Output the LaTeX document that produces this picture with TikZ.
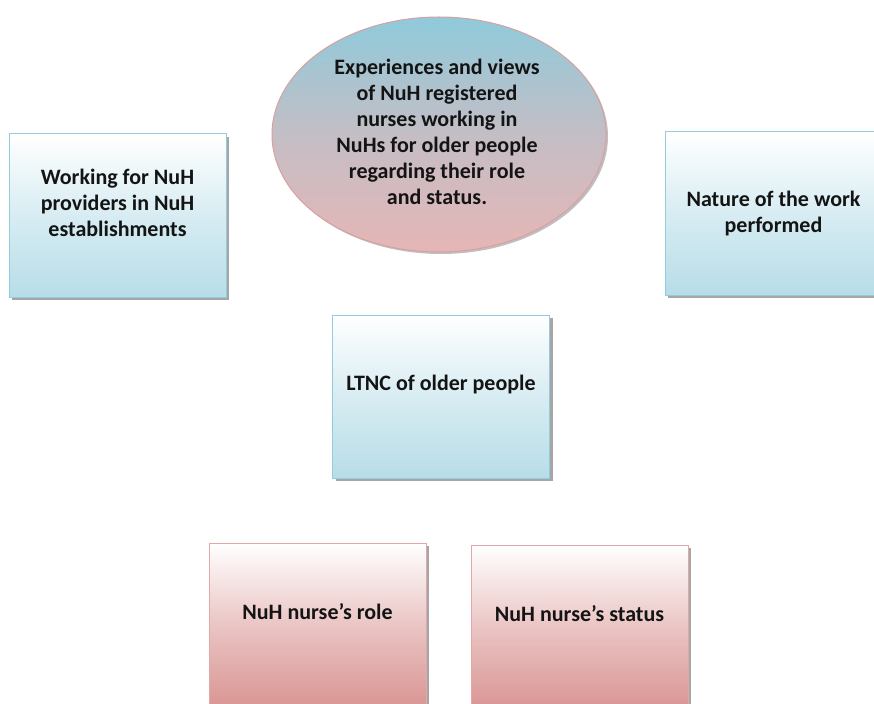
\documentclass[tikz,border=0pt]{standalone}
\usepackage{fontspec}
\setmainfont{Carlito}
\usetikzlibrary{shadows,shapes.geometric}
\definecolor{bluefill}{HTML}{B7DDE8}
\definecolor{blueline}{HTML}{93CDDD}
\definecolor{pinkfill}{HTML}{D99694}
\definecolor{pinkline}{HTML}{E0A8A8}
\definecolor{ovaltop}{HTML}{8FCADB}
\definecolor{ovalbot}{HTML}{E6B6B6}
\definecolor{ovalline}{HTML}{D9A0A0}
\definecolor{inkcol}{HTML}{141414}
\tikzset{
  x=1pt, y=1pt,
  lbl/.style={font=\fontsize{22}{26}\selectfont\bfseries, text=inkcol, align=center},
  bluebox/.style={draw=blueline, line width=1pt, top color=white, bottom color=bluefill,
    middle color=bluefill!55, minimum width=217pt, minimum height=163pt, inner sep=0pt,
    drop shadow={shadow xshift=3pt, shadow yshift=-3pt, fill=black, opacity=0.35}},
  pinkbox/.style={draw=pinkline, line width=1pt, top color=white, bottom color=pinkfill,
    middle color=pinkfill!55, minimum width=217pt, minimum height=163pt, inner sep=0pt,
    drop shadow={shadow xshift=3pt, shadow yshift=-3pt, fill=black, opacity=0.35}},
  oval/.style={ellipse, draw=ovalline, line width=1pt, top color=ovaltop, bottom color=ovalbot,
    middle color=ovalbot!60!ovaltop, minimum width=334pt, minimum height=235pt, inner sep=0pt,
    drop shadow={shadow xshift=2pt, shadow yshift=-2pt, fill=black, opacity=0.25}}
}
\begin{document}
\begin{tikzpicture}
\useasboundingbox (0,0) rectangle (874,-703);
\clip (0,0) rectangle (874,-703);
\fill[white] (0,0) rectangle (874,-703);
% central theme
\node[oval] (theme) at (439,-134.5) {};
\node[lbl] (themetext) at (437,-131.5) {Experiences and views\\of NuH registered\\nurses working in\\NuHs for older people\\regarding their role\\and status.};
% upper boxes
\node[bluebox] (providers) at (117.5,-215.5) {};
\node[lbl] at (providers.center) [yshift=13pt] {Working for NuH\\providers in NuH\\establishments};
\node[bluebox] (nature) at (773.5,-213.5) {};
\node[lbl] at (nature.center) [yshift=-0.5pt] {Nature of the work\\performed};
% middle box
\node[bluebox] (ltnc) at (441,-396.5) {};
\node[lbl] at (ltnc.center) [yshift=12pt] {LTNC of older people};
% lower boxes
\node[pinkbox] (role) at (317.5,-624.5) {};
\node[lbl] at (role.center) [yshift=12.5pt] {NuH nurse’s role};
\node[pinkbox] (status) at (579.5,-626.5) {};
\node[lbl] at (status.center) [yshift=12.5pt] {NuH nurse’s status};
\end{tikzpicture}
\end{document}
